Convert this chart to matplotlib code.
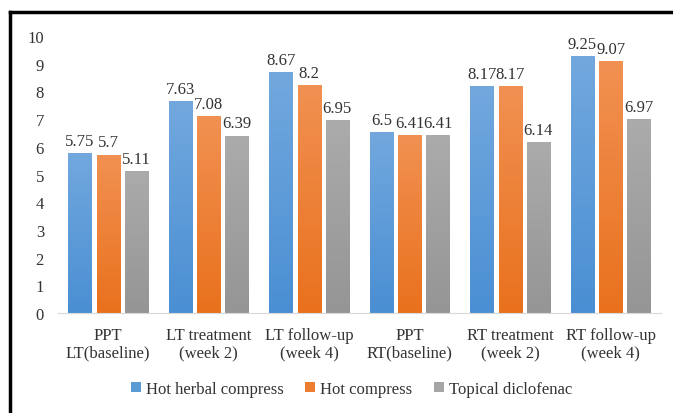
import numpy as np
import matplotlib.pyplot as plt
from matplotlib.lines import Line2D
from matplotlib.patches import Patch
from matplotlib.colors import LinearSegmentedColormap

plt.rcParams['font.family'] = ['Liberation Serif', 'DejaVu Serif']

categories = ['PPT\nLT(baseline)', 'LT treatment\n(week 2)', 'LT follow-up\n(week 4)',
              'PPT\nRT(baseline)', 'RT treatment\n(week 2)', 'RT follow-up\n(week 4)']
herbal = [5.75, 7.63, 8.67, 6.5, 8.17, 9.25]
hot = [5.7, 7.08, 8.2, 6.41, 8.17, 9.07]
diclofenac = [5.11, 6.39, 6.95, 6.41, 6.14, 6.97]
series_names = ['Hot herbal compress', 'Hot compress', 'Topical diclofenac']

# (top colour, bottom colour, legend colour)
shades = [('#72a8de', '#4a8fd3', '#5b9bd5'),
          ('#f19152', '#e9711d', '#ed7d31'),
          ('#ababab', '#959595', '#a5a5a5')]

fig = plt.figure(figsize=(6.73, 4.14), dpi=100)
ax = fig.add_axes([0.086, 0.2415, 0.896, 0.669])

x = np.arange(len(categories))
offsets = [-0.28, 0, 0.28]
width = 0.23

grad = np.linspace(0, 1, 256).reshape(-1, 1)
for vals, off, (top, bottom, _) in zip([herbal, hot, diclofenac], offsets, shades):
    cmap = LinearSegmentedColormap.from_list('g', [bottom, top])
    for xi, v in zip(x, vals):
        left = xi + off - width / 2
        ax.imshow(grad, cmap=cmap, origin='lower', aspect='auto',
                  extent=[left, left + width, 0, v], zorder=2)
        ax.text(xi + off, v + 0.17, f'{v:g}', ha='center', va='bottom',
                fontsize=12, color='#333333')

ax.set_xlim(-0.5, len(categories) - 0.5)
ax.set_ylim(0, 10)
ax.set_yticks(range(0, 11))
ax.set_xticks(x)
ax.set_xticklabels(categories, fontsize=12, color='#333333', linespacing=1.15)
ax.tick_params(axis='y', length=0, pad=10, labelsize=12, labelcolor='#333333')
ax.tick_params(axis='x', length=0, pad=10)
for s in ['top', 'right', 'left']:
    ax.spines[s].set_visible(False)
ax.spines['bottom'].set_color('#d9d9d9')

handles = [Patch(facecolor=c[2], label=n) for c, n in zip(shades, series_names)]
fig.legend(handles=handles, loc='center', bbox_to_anchor=(0.522, 0.058), ncol=3,
           frameon=False, fontsize=12, handlelength=0.6, handleheight=0.6,
           handletextpad=0.3, columnspacing=1.3, labelcolor='#333333')

# frame lines along the top and left edges
fig.add_artist(Line2D([0.0149, 1], [0.9698, 0.9698], color='black', lw=2.5,
                      transform=fig.transFigure))
fig.add_artist(Line2D([0.0149, 0.0149], [0, 0.9698], color='black', lw=2.5,
                      transform=fig.transFigure))

fig.savefig('out.png', dpi=100)
